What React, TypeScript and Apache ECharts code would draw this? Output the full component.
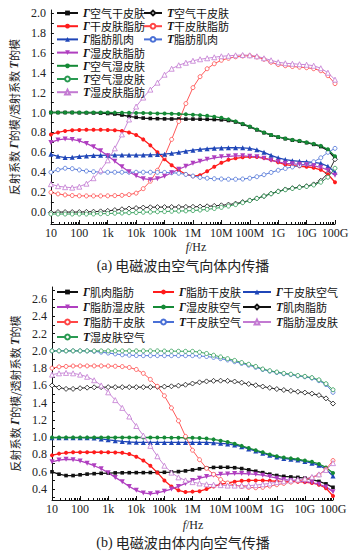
import React, { useEffect, useRef } from 'react';
import * as echarts from 'echarts';

// frequency exponents (log10 f), sampling grid of the curves
const FREQ_EXP = [1, 1.25, 1.5, 1.75, 2, 2.25, 2.5, 2.75, 3, 3.25, 3.5, 3.75, 4, 4.25, 4.5, 4.75, 5, 5.25, 5.5, 5.75, 6, 6.25, 6.5, 6.75, 7, 7.25, 7.5, 7.75, 8, 8.25, 8.5, 8.75, 9, 9.25, 9.5, 9.75, 10, 10.25, 10.5, 10.75, 11];
const X_TICK_LABELS = ['10', '100', '1k', '10k', '100k', '1M', '10M', '100M', '1G', '10G', '100G'];
const X_MAJOR = [1e1, 1e2, 1e3, 1e4, 1e5, 1e6, 1e7, 1e8, 1e9, 1e10, 1e11];
const Y_LABELS_TOP = [0, 0.2, 0.4, 0.6, 0.8, 1.0, 1.2, 1.4, 1.6, 1.8, 2.0];
const Y_TICKS_TOP = [-0.1, 0, 0.1, 0.2, 0.3, 0.4, 0.5, 0.6, 0.7, 0.8, 0.9, 1.0, 1.1, 1.2, 1.3, 1.4, 1.5, 1.6, 1.7, 1.8, 1.9, 2.0];
const Y_LABELS_BOT = [0.4, 0.6, 0.8, 1.0, 1.2, 1.4, 1.6, 1.8, 2.0, 2.2, 2.4, 2.6];
const Y_TICKS_BOT = [0.3, 0.4, 0.5, 0.6, 0.7, 0.8, 0.9, 1.0, 1.1, 1.2, 1.3, 1.4, 1.5, 1.6, 1.7, 1.8, 1.9, 2.0, 2.1, 2.2, 2.3, 2.4, 2.5, 2.6, 2.7];

// ---- (a) air -> body ----
const G_AIR_DRY = [1.0, 1.0, 1.0, 1.0, 0.998, 0.997, 0.996, 0.994, 0.99, 0.985, 0.975, 0.962, 0.952, 0.944, 0.94, 0.938, 0.936, 0.935, 0.935, 0.934, 0.934, 0.933, 0.932, 0.93, 0.927, 0.92, 0.905, 0.882, 0.856, 0.826, 0.797, 0.772, 0.752, 0.737, 0.722, 0.712, 0.697, 0.68, 0.658, 0.62, 0.54];
const T_AIR_DRY = [-0.005, 0, 0, 0, 0, 0.002, 0.004, 0.007, 0.012, 0.02, 0.028, 0.035, 0.04, 0.045, 0.048, 0.05, 0.05, 0.051, 0.051, 0.052, 0.053, 0.055, 0.058, 0.062, 0.068, 0.075, 0.085, 0.1, 0.117, 0.137, 0.16, 0.185, 0.208, 0.227, 0.24, 0.25, 0.26, 0.278, 0.315, 0.39, 0.53];
const G_DRY_FAT = [0.78, 0.8, 0.815, 0.822, 0.825, 0.826, 0.826, 0.826, 0.825, 0.822, 0.815, 0.8, 0.775, 0.73, 0.67, 0.6, 0.53, 0.47, 0.42, 0.38, 0.36, 0.37, 0.41, 0.455, 0.495, 0.525, 0.54, 0.55, 0.555, 0.553, 0.543, 0.525, 0.5, 0.477, 0.466, 0.46, 0.455, 0.445, 0.425, 0.38, 0.3];
const T_DRY_FAT = [0.198, 0.182, 0.172, 0.166, 0.163, 0.162, 0.162, 0.162, 0.163, 0.165, 0.168, 0.175, 0.19, 0.235, 0.31, 0.42, 0.56, 0.73, 0.91, 1.09, 1.25, 1.36, 1.44, 1.49, 1.525, 1.545, 1.56, 1.568, 1.57, 1.558, 1.535, 1.505, 1.482, 1.47, 1.462, 1.456, 1.45, 1.44, 1.42, 1.37, 1.29];
const G_FAT_MUSCLE = [0.58, 0.56, 0.547, 0.55, 0.558, 0.564, 0.568, 0.57, 0.571, 0.572, 0.572, 0.572, 0.572, 0.573, 0.575, 0.578, 0.582, 0.59, 0.6, 0.612, 0.622, 0.63, 0.636, 0.641, 0.644, 0.646, 0.646, 0.645, 0.64, 0.625, 0.6, 0.57, 0.545, 0.527, 0.516, 0.51, 0.505, 0.5, 0.49, 0.46, 0.4];
const T_FAT_MUSCLE = [0.4, 0.425, 0.44, 0.436, 0.423, 0.412, 0.405, 0.402, 0.4, 0.4, 0.4, 0.4, 0.4, 0.4, 0.4, 0.399, 0.398, 0.395, 0.39, 0.378, 0.362, 0.348, 0.34, 0.335, 0.332, 0.33, 0.33, 0.332, 0.34, 0.355, 0.375, 0.398, 0.42, 0.438, 0.453, 0.467, 0.482, 0.505, 0.545, 0.6, 0.64];
const G_WET_FAT = [0.7, 0.725, 0.735, 0.73, 0.715, 0.69, 0.655, 0.615, 0.565, 0.51, 0.455, 0.405, 0.365, 0.335, 0.325, 0.335, 0.36, 0.395, 0.43, 0.46, 0.49, 0.51, 0.53, 0.545, 0.555, 0.56, 0.565, 0.565, 0.56, 0.555, 0.54, 0.52, 0.505, 0.49, 0.485, 0.48, 0.475, 0.465, 0.45, 0.42, 0.37];
const G_AIR_WET = [1.0, 1.0, 1.0, 1.0, 1.0, 1.0, 1.0, 1.0, 1.0, 0.999, 0.998, 0.997, 0.996, 0.995, 0.993, 0.991, 0.99, 0.988, 0.985, 0.982, 0.978, 0.973, 0.967, 0.958, 0.947, 0.931, 0.911, 0.886, 0.86, 0.83, 0.8, 0.775, 0.755, 0.74, 0.725, 0.715, 0.7, 0.685, 0.665, 0.63, 0.56];
const T_AIR_WET = [-0.02, -0.02, -0.02, -0.02, -0.02, -0.02, -0.019, -0.017, -0.015, -0.012, -0.01, -0.007, -0.005, -0.002, 0, 0.003, 0.005, 0.008, 0.01, 0.012, 0.015, 0.02, 0.027, 0.036, 0.047, 0.06, 0.075, 0.094, 0.115, 0.137, 0.16, 0.184, 0.206, 0.224, 0.237, 0.247, 0.257, 0.272, 0.3, 0.35, 0.44];
const T_WET_FAT = [0.28, 0.26, 0.25, 0.245, 0.255, 0.285, 0.34, 0.42, 0.52, 0.64, 0.78, 0.93, 1.06, 1.15, 1.23, 1.3, 1.38, 1.44, 1.475, 1.5, 1.52, 1.535, 1.545, 1.555, 1.565, 1.57, 1.575, 1.578, 1.575, 1.565, 1.545, 1.525, 1.505, 1.495, 1.49, 1.485, 1.48, 1.47, 1.445, 1.4, 1.33];

// ---- (b) body -> air ----
const G_MUSCLE_FAT = [0.6, 0.572, 0.556, 0.556, 0.565, 0.573, 0.578, 0.582, 0.585, 0.587, 0.588, 0.589, 0.59, 0.59, 0.591, 0.592, 0.594, 0.597, 0.602, 0.61, 0.622, 0.634, 0.644, 0.65, 0.652, 0.652, 0.647, 0.637, 0.622, 0.606, 0.59, 0.572, 0.557, 0.547, 0.54, 0.535, 0.527, 0.51, 0.488, 0.46, 0.42];
const G_FAT_DRY = [0.79, 0.81, 0.82, 0.825, 0.826, 0.826, 0.826, 0.826, 0.825, 0.824, 0.82, 0.805, 0.775, 0.73, 0.67, 0.59, 0.5, 0.43, 0.385, 0.365, 0.37, 0.375, 0.4, 0.43, 0.455, 0.47, 0.485, 0.495, 0.5, 0.5, 0.5, 0.495, 0.49, 0.485, 0.485, 0.485, 0.48, 0.47, 0.45, 0.41, 0.32];
const G_DRY_AIR = [0.995, 0.995, 0.995, 0.995, 0.995, 0.994, 0.99, 0.98, 0.97, 0.96, 0.951, 0.945, 0.941, 0.94, 0.94, 0.94, 0.94, 0.94, 0.94, 0.94, 0.94, 0.94, 0.94, 0.935, 0.93, 0.922, 0.91, 0.89, 0.865, 0.84, 0.815, 0.79, 0.77, 0.755, 0.745, 0.735, 0.72, 0.7, 0.675, 0.63, 0.55];
const G_FAT_WET = [0.715, 0.735, 0.745, 0.74, 0.725, 0.7, 0.67, 0.635, 0.59, 0.535, 0.485, 0.43, 0.385, 0.355, 0.345, 0.355, 0.375, 0.4, 0.43, 0.465, 0.5, 0.525, 0.545, 0.56, 0.57, 0.575, 0.58, 0.58, 0.575, 0.57, 0.56, 0.545, 0.525, 0.51, 0.5, 0.49, 0.485, 0.475, 0.455, 0.425, 0.37];
const G_WET_AIR = [0.997, 0.997, 0.997, 0.997, 0.997, 0.997, 0.997, 0.997, 0.997, 0.997, 0.997, 0.997, 0.997, 0.997, 0.997, 0.996, 0.996, 0.995, 0.995, 0.994, 0.993, 0.99, 0.985, 0.975, 0.96, 0.945, 0.925, 0.9, 0.875, 0.85, 0.825, 0.8, 0.78, 0.765, 0.755, 0.745, 0.73, 0.715, 0.69, 0.65, 0.585];
const T_MUSCLE_FAT = [1.6, 1.575, 1.56, 1.56, 1.568, 1.574, 1.578, 1.58, 1.58, 1.58, 1.58, 1.58, 1.58, 1.58, 1.581, 1.583, 1.586, 1.59, 1.597, 1.608, 1.622, 1.636, 1.647, 1.653, 1.655, 1.653, 1.645, 1.632, 1.617, 1.602, 1.587, 1.572, 1.558, 1.547, 1.537, 1.527, 1.517, 1.505, 1.487, 1.45, 1.39];
const T_FAT_DRY = [1.8, 1.815, 1.82, 1.825, 1.826, 1.826, 1.826, 1.826, 1.825, 1.822, 1.818, 1.808, 1.785, 1.74, 1.67, 1.59, 1.48, 1.34, 1.19, 1.01, 0.85, 0.74, 0.64, 0.57, 0.51, 0.47, 0.445, 0.43, 0.42, 0.415, 0.42, 0.435, 0.45, 0.465, 0.48, 0.495, 0.51, 0.53, 0.565, 0.63, 0.73];
const T_DRY_AIR = [2.0, 2.0, 2.0, 2.0, 2.0, 1.999, 1.995, 1.985, 1.975, 1.965, 1.955, 1.95, 1.946, 1.945, 1.945, 1.945, 1.945, 1.945, 1.945, 1.945, 1.945, 1.94, 1.935, 1.925, 1.91, 1.895, 1.875, 1.855, 1.835, 1.81, 1.785, 1.765, 1.75, 1.735, 1.725, 1.71, 1.7, 1.685, 1.655, 1.61, 1.52];
const T_FAT_WET = [1.725, 1.74, 1.745, 1.74, 1.725, 1.7, 1.66, 1.6, 1.52, 1.43, 1.34, 1.24, 1.13, 1.02, 0.9, 0.78, 0.67, 0.59, 0.535, 0.5, 0.48, 0.465, 0.455, 0.45, 0.445, 0.44, 0.44, 0.44, 0.44, 0.445, 0.455, 0.465, 0.48, 0.49, 0.5, 0.51, 0.52, 0.54, 0.57, 0.62, 0.7];
const T_WET_AIR = [2.0, 2.0, 2.0, 2.0, 2.0, 2.0, 2.0, 2.0, 2.0, 2.0, 2.0, 2.0, 2.0, 2.0, 2.0, 2.0, 1.998, 1.997, 1.996, 1.995, 1.995, 1.985, 1.97, 1.95, 1.93, 1.91, 1.89, 1.865, 1.845, 1.82, 1.79, 1.77, 1.755, 1.74, 1.73, 1.715, 1.705, 1.69, 1.665, 1.62, 1.55];

const COL = {
  black: '#111111', red: '#ff1c1c', redO: '#ff4646', blue: '#1f46b8', blueO: '#4a70d6',
  purple: '#b03fc0', purpleO: '#c37ad2', green: '#158a36', greenO: '#2a9a52',
};

const SERIF = "'Liberation Serif', 'DejaVu Serif', serif";
const CJK = "'Noto Sans CJK SC', sans-serif";

function mk(name: string, vals: number[], color: string, symbol: string, filled: boolean, grid: number, rotate = 0) {
  let size = 4;
  if (symbol === 'triangle') size = 5;
  if (symbol === 'rect') size = 3.6;
  if (symbol === 'diamond') size = 5;
  return {
    type: 'line', name, xAxisIndex: grid * 2, yAxisIndex: grid,
    data: FREQ_EXP.map((e, i) => [Math.pow(10, e), vals[i]]),
    symbol, symbolRotate: rotate, symbolSize: size,
    showSymbol: true, silent: true,
    lineStyle: { color, width: filled ? 1.3 : 0.9 },
    itemStyle: filled ? { color, borderWidth: 0 } : { color: '#ffffff', borderColor: color, borderWidth: 0.8 },
    emphasis: { disabled: true },
  };
}

function xAxes(grid: number) {
  const minor: number[] = [];
  for (let k = 1; k <= 10; k++) for (let m = 2; m <= 9; m++) minor.push(m * Math.pow(10, k));
  const base = {
    type: 'log', logBase: 10, gridIndex: grid, min: 10, max: 1e11, position: 'bottom',
    splitLine: { show: false }, minorTick: { show: false }, axisPointer: { show: false },
  };
  return [
    {
      ...base,
      axisLine: { show: true, onZero: false, lineStyle: { color: '#111', width: 1 } },
      axisTick: { show: true, inside: true, length: 4, customValues: X_MAJOR, lineStyle: { color: '#111' } },
      axisLabel: {
        customValues: X_MAJOR, margin: 3, fontFamily: SERIF, fontSize: 12, color: '#222',
        formatter: (v: number) => X_TICK_LABELS[Math.round(Math.log10(v)) - 1],
      },
    },
    {
      ...base,
      axisLine: { show: false, onZero: false },
      axisTick: { show: true, inside: true, length: 2, customValues: minor, lineStyle: { color: '#111' } },
      axisLabel: { show: false },
    },
  ];
}

function yAxis(grid: number, min: number, max: number, labels: number[], ticks: number[], gap: number) {
  return {
    type: 'value', gridIndex: grid, min, max,
    axisLine: { show: true, onZero: false, lineStyle: { color: '#111', width: 1 } },
    axisTick: { show: true, inside: true, length: 3, customValues: ticks, lineStyle: { color: '#111' } },
    axisLabel: { customValues: labels, margin: 5, fontFamily: SERIF, fontSize: 12, color: '#222', formatter: (v: number) => v.toFixed(1) },
    splitLine: { show: false },
    name: '反射系数 {i|Γ}的模/透射系数 {i|T}的模',
    nameLocation: 'middle', nameGap: gap, nameRotate: 90,
    nameTextStyle: {
      fontFamily: CJK, fontSize: 11, color: '#222',
      rich: { i: { fontFamily: SERIF, fontStyle: 'italic', fontWeight: 'bold', fontSize: 12, color: '#222' } },
    },
  };
}

function legend(data: string[], left: number, top: number, itemWidth: number, lh: number) {
  return {
    data, left, top, orient: 'vertical', padding: 0, itemGap: 0, itemWidth, itemHeight: 6,
    selectedMode: false,
    formatter: (n: string) => '{g|' + n.charAt(0) + '}' + n.slice(1),
    textStyle: {
      fontFamily: CJK, fontSize: 11, color: '#111', lineHeight: lh,
      rich: { g: { fontFamily: SERIF, fontStyle: 'italic', fontWeight: 'bold', fontSize: 11.5, lineHeight: lh, color: '#111' } },
    },
  };
}

function textEl(x: number, y: number, text: string, size: number, family: string) {
  return {
    type: 'text', x, y, silent: true,
    style: {
      text, fill: '#222', fontSize: size, fontFamily: family, align: 'center', verticalAlign: 'middle',
      rich: {
        i: { fontStyle: 'italic', fontFamily: SERIF, fontSize: 12, fill: '#222' },
        s: { fontFamily: SERIF, fontSize: size, fill: '#222' },
      },
    },
  };
}

export default function App() {
  const ref = useRef<HTMLDivElement>(null);
  useEffect(() => {
    document.body.style.margin = '0';
    const chart = echarts.init(ref.current as HTMLDivElement, null, { renderer: 'svg' });
    const series = [
      mk('Γ空气干皮肤', G_AIR_DRY, COL.black, 'rect', true, 0),
      mk('T空气干皮肤', T_AIR_DRY, COL.black, 'diamond', false, 0),
      mk('Γ干皮肤脂肪', G_DRY_FAT, COL.red, 'circle', true, 0),
      mk('T干皮肤脂肪', T_DRY_FAT, COL.redO, 'circle', false, 0),
      mk('Γ脂肪肌肉', G_FAT_MUSCLE, COL.blue, 'triangle', true, 0),
      mk('T脂肪肌肉', T_FAT_MUSCLE, COL.blueO, 'circle', false, 0),
      mk('Γ湿皮肤脂肪', G_WET_FAT, COL.purple, 'triangle', true, 0, 180),
      mk('Γ空气湿皮肤', G_AIR_WET, COL.green, 'circle', true, 0),
      mk('T空气湿皮肤', T_AIR_WET, COL.greenO, 'circle', false, 0),
      mk('T湿皮肤脂肪', T_WET_FAT, COL.purpleO, 'triangle', false, 0),

      mk('Γ肌肉脂肪', G_MUSCLE_FAT, COL.black, 'rect', true, 1),
      mk('Γ脂肪干皮肤', G_FAT_DRY, COL.red, 'circle', true, 1),
      mk('Γ干皮肤空气', G_DRY_AIR, COL.blue, 'triangle', true, 1),
      mk('Γ脂肪湿皮肤', G_FAT_WET, COL.purple, 'triangle', true, 1, 180),
      mk('Γ湿皮肤空气', G_WET_AIR, COL.green, 'circle', true, 1),
      mk('T肌肉脂肪', T_MUSCLE_FAT, COL.black, 'diamond', false, 1),
      mk('T脂肪干皮肤', T_FAT_DRY, COL.redO, 'circle', false, 1),
      mk('T干皮肤空气', T_DRY_AIR, COL.blueO, 'circle', false, 1),
      mk('T脂肪湿皮肤', T_FAT_WET, COL.purpleO, 'triangle', false, 1),
      mk('T湿皮肤空气', T_WET_AIR, COL.greenO, 'circle', false, 1),
    ];
    chart.setOption({
      animation: false,
      backgroundColor: '#ffffff',
      grid: [
        { left: 49, right: 21, top: 10, height: 214 },
        { left: 52, right: 23, top: 287, height: 213 },
      ],
      xAxis: [...xAxes(0), ...xAxes(1)],
      yAxis: [
        yAxis(0, -0.12, 2.03, Y_LABELS_TOP, Y_TICKS_TOP, 22),
        yAxis(1, 0.273, 2.74, Y_LABELS_BOT, Y_TICKS_BOT, 24),
      ],
      legend: [
        legend(['Γ空气干皮肤', 'Γ干皮肤脂肪', 'Γ脂肪肌肉', 'Γ湿皮肤脂肪', 'Γ空气湿皮肤', 'T空气湿皮肤', 'T湿皮肤脂肪'], 56, 6.4, 21, 13.2),
        legend(['T空气干皮肤', 'T干皮肤脂肪', 'T脂肪肌肉'], 143, 6.4, 18, 13.2),
        legend(['Γ肌肉脂肪', 'Γ脂肪湿皮肤', 'T脂肪干皮肤', 'T湿皮肤空气'], 56, 284.5, 21, 15),
        legend(['Γ脂肪干皮肤', 'Γ湿皮肤空气', 'T干皮肤空气'], 152, 284.5, 21, 15),
        legend(['Γ干皮肤空气', 'T肌肉脂肪', 'T脂肪湿皮肤'], 242, 284.5, 28, 15),
      ],
      graphic: [
        textEl(196, 247, '{i|f}{s|/Hz}', 12, SERIF),
        textEl(193, 525, '{i|f}{s|/Hz}', 12, SERIF),
        textEl(183, 265, '{s|(a)} 电磁波由空气向体内传播', 14, CJK),
        textEl(183, 542, '{s|(b)} 电磁波由体内向空气传播', 14, CJK),
      ],
      series,
    });
    return () => chart.dispose();
  }, []);
  return <div ref={ref} style={{ width: 356, height: 552 }} />;
}
